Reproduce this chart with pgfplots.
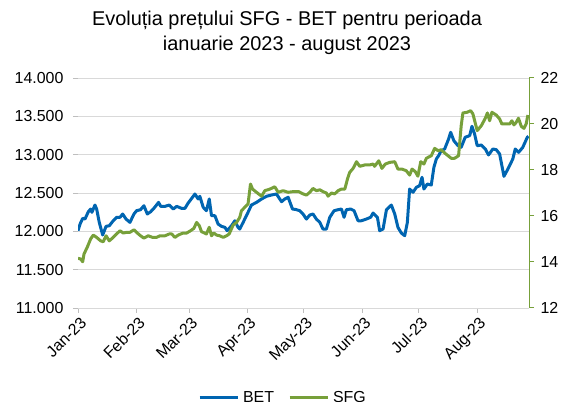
\documentclass[border=0pt]{standalone}
\usepackage{pgfplots}
\pgfplotsset{compat=1.18}
\usepackage{fontspec}
\setmainfont{Liberation Sans}
\definecolor{betblue}{RGB}{0,101,177}
\definecolor{sfggreen}{RGB}{119,160,58}
\definecolor{gridgray}{RGB}{217,217,217}
\definecolor{tickgray}{RGB}{190,190,190}

\pgfplotstableread{
day val
0 12008
1.1 12095
2.5 12170
3.7 12160
5.5 12256
6.7 12291
7.4 12248
9.0 12343
9.9 12291
11.3 12117
13.1 11952
14.9 12065
16.6 12073
18.7 12138
20.5 12183
22.3 12183
23.7 12226
25.5 12160
27.6 12117
29.7 12226
31.1 12269
33.2 12282
35.0 12334
36.8 12226
38.6 12256
40.3 12300
41.4 12334
42.8 12378
43.9 12326
46.2 12326
48.5 12343
50.6 12291
52.4 12326
55.0 12300
56.8 12300
58.5 12369
60.8 12444
62.1 12487
63.8 12422
64.7 12457
66.5 12313
68.2 12269
69.7 12422
70.9 12204
72.7 12204
74.4 12095
76.2 12065
78.0 12052
79.2 12008
81.5 12073
83.3 12138
85.0 12052
85.9 12030
87.7 12117
90.3 12248
92.1 12343
94.8 12378
97.5 12422
100.1 12457
102.8 12474
105.4 12487
108.1 12386
109.8 12422
111.6 12444
113.9 12291
115.6 12285
117.8 12269
119.5 12226
121.3 12160
123.1 12213
124.8 12226
126.6 12160
128.4 12117
130.1 12030
131.9 12030
133.7 12183
136.0 12269
138.1 12282
139.9 12291
141.3 12183
142.5 12282
144.8 12291
146.6 12269
148.7 12138
150.5 12138
153.1 12160
155.4 12183
156.7 12239
159.0 12183
160.2 12008
162.0 12030
163.8 12282
166.4 12343
168.2 12226
169.9 12052
171.7 11978
173.5 11943
174.9 12117
176.1 12552
177.9 12509
179.7 12574
181.4 12595
182.7 12705
183.7 12552
185.5 12617
187.6 12604
189.0 12835
190.3 12944
191.5 12987
192.9 13052
194.7 13074
196.8 13204
197.9 13292
199.6 13182
201.8 13117
203.5 13096
205.6 13227
208.0 13248
209.2 13370
210.6 13270
212.0 13117
214.2 13126
216.3 13074
218.0 12996
220.3 13074
222.1 13065
223.9 13009
226.2 12718
228.3 12813
230.9 12944
232.2 13074
234.0 13031
236.2 13096
238.6 13227
239.2 13240
}\betdata

\pgfplotstableread{
day val
0 14.16
1.4 14.13
2.5 14.01
3.2 14.35
4.9 14.64
6.7 15.00
8.1 15.17
9.9 15.07
12.0 14.92
13.4 14.88
14.9 15.14
16.6 14.92
18.7 15.07
20.5 15.22
22.3 15.36
24.0 15.26
25.8 15.29
27.6 15.29
29.7 15.40
31.5 15.26
33.2 15.14
35.0 15.04
37.3 15.14
39.6 15.07
41.7 15.07
43.5 15.14
46.2 15.14
48.5 15.22
49.7 15.22
51.5 15.07
53.2 15.17
55.5 15.25
57.7 15.26
59.8 15.36
61.5 15.46
63.0 15.72
64.4 15.58
65.6 15.32
68.2 15.22
69.7 15.51
70.9 15.14
72.1 15.26
73.6 15.17
75.3 15.14
77.1 15.07
78.9 15.14
80.3 15.22
82.4 15.61
84.2 15.72
85.9 15.94
86.8 16.23
88.6 16.38
90.3 16.52
91.6 17.39
92.7 17.17
94.8 17.03
97.5 16.86
99.2 17.10
101.9 17.17
104.5 17.27
106.3 17.03
108.9 17.10
111.6 17.03
114.2 17.06
117.2 17.06
119.5 16.96
121.3 16.91
123.1 17.03
124.8 17.20
126.6 17.10
128.4 17.14
130.1 17.06
131.9 17.00
132.8 16.86
134.6 17.00
136.3 16.96
138.1 17.10
139.9 17.17
141.7 17.17
143.1 17.61
144.3 17.90
146.1 18.07
147.9 18.36
149.6 18.16
152.3 18.22
154.9 18.22
156.7 18.26
157.5 18.16
159.7 18.40
161.4 18.07
163.2 18.26
165.5 18.33
168.2 18.36
169.9 18.04
172.0 18.04
174.3 17.97
176.1 17.78
177.4 18.04
179.1 17.93
180.5 17.73
182.0 18.36
183.7 18.26
185.0 18.51
187.6 18.62
189.4 18.94
191.2 18.84
192.9 18.88
194.7 18.74
196.5 18.62
198.2 18.51
200.0 18.51
202.1 18.62
203.5 19.93
204.4 20.48
206.7 20.51
208.5 20.58
209.7 20.44
212.0 19.71
214.2 19.93
216.3 20.25
217.4 20.48
218.6 20.14
219.8 20.51
222.1 20.39
223.9 20.22
225.1 20.00
226.9 20.00
229.2 20.00
230.4 20.14
231.5 19.96
232.7 20.07
233.9 20.25
235.4 19.90
236.8 19.81
238.0 20.00
238.9 20.39
}\sfgdata

\begin{document}
\begin{tikzpicture}
\useasboundingbox (0,0) rectangle (564bp,402bp);
\node[align=center, font=\fontsize{20}{25}\selectfont] at (287bp,369bp)
  {Evoluția prețului SFG - BET pentru perioada\\ianuarie 2023 - august 2023};
\begin{axis}[
  at={(78bp,94bp)}, anchor=south west,
  scale only axis, width=451bp, height=230bp,
  xmin=0, xmax=239.5, ymin=11000, ymax=14000,
  scaled y ticks=false,
  axis x line*=bottom, axis y line*=left,
  x axis line style={gridgray, line width=1bp, -},
  y axis line style={draw=none},
  xtick={0,31,59,90,120,151,181,212},
  xticklabels={Jan-23,Feb-23,Mar-23,Apr-23,May-23,Jun-23,Jul-23,Aug-23},
  xticklabel style={rotate=45, anchor=north east, font=\fontsize{16}{16}\selectfont, inner sep=1bp, yshift=-2bp},
  ytick={11000,11500,12000,12500,13000,13500,14000},
  yticklabels={11.000,11.500,12.000,12.500,13.000,13.500,14.000},
  yticklabel style={font=\fontsize{16}{16}\selectfont, xshift=-6bp},
  ymajorgrids, grid style={gridgray, line width=1bp},
  tick style={tickgray, line width=1bp}, tick align=outside, major tick length=5bp,
  legend style={at={(0.4545,-0.39)}, anchor=center, legend columns=2, draw=none, fill=none,
    font=\fontsize{16}{16}\selectfont, /tikz/every even column/.append style={column sep=12bp},
    /tikz/every odd column/.append style={column sep=2bp}},
  legend image code/.code={\draw[#1] (0bp,0bp) -- (38bp,0bp);},
]
\addplot[betblue, line width=3bp, line join=round] table[x=day,y=val] {\betdata};
\addlegendentry{BET}
\addlegendimage{sfggreen, line width=3bp}
\addlegendentry{SFG}
\end{axis}
\begin{axis}[
  at={(78bp,94bp)}, anchor=south west,
  scale only axis, width=451bp, height=230bp,
  xmin=0, xmax=239.5, ymin=12, ymax=22,
  axis x line=none, axis y line*=right,
  y axis line style={sfggreen, line width=1bp, -},
  ytick={12,14,16,18,20,22},
  yticklabel style={font=\fontsize{16}{16}\selectfont, xshift=3bp, /pgf/number format/assume math mode=true},
  ytick style={sfggreen, line width=1bp}, tick align=outside, major tick length=5bp,
]
\addplot[sfggreen, line width=3bp, line join=round] table[x=day,y=val] {\sfgdata};
\end{axis}
\end{tikzpicture}
\end{document}
